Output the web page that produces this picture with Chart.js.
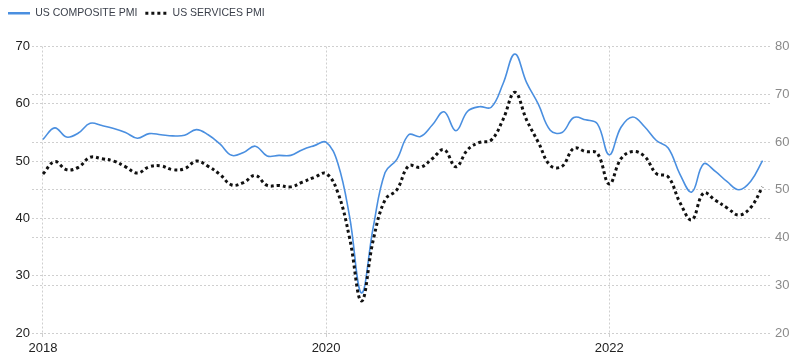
<!DOCTYPE html>
<html>
<head>
<meta charset="utf-8">
<script src="https://cdn.jsdelivr.net/npm/chart.js@4/dist/chart.umd.min.js"></script>
<style>
  html, body { margin: 0; padding: 0; background: #fff; }
  #wrap { width: 800px; height: 364px; }
</style>
</head>
<body>
<div id="wrap"><canvas id="myChart" width="800" height="364"></canvas></div>
<script>
// monthly data, Jan 2018 .. Feb 2023 (index 0 = Jan 2018)
const startYear = 2018;
const tickYears = [2018, 2020, 2022];
const leftTicks = [20, 30, 40, 50, 60, 70];
const rightTicks = [20, 30, 40, 50, 60, 70, 80];

// US composite PMI (left axis)
const composite = [
  53.8, 55.8, 54.2, 54.9, 56.6, 56.2, 55.7, 55.0, 54.0, 54.8, 54.6, 54.4,
  54.5, 55.5, 54.6, 53.0, 51.0, 51.5, 52.6, 50.9, 51.0, 51.0, 52.0, 52.7,
  53.3, 49.6, 40.2, 27.0, 38.5, 48.0, 50.3, 54.6, 54.3, 56.3, 58.6, 55.3,
  58.7, 59.5, 59.4, 63.5, 68.7, 63.7, 59.9, 55.4, 55.0, 57.6, 57.2, 56.5,
  51.1, 55.9, 57.7, 56.0, 53.6, 52.3, 47.7, 44.6, 49.5, 48.2, 46.4, 45.0,
  46.5, 50.1
];

// US services PMI (right axis)
const services = [
  53.3, 55.9, 54.2, 54.7, 56.8, 56.5, 56.0, 54.8, 53.5, 54.8, 55.0, 54.2,
  54.4, 56.0, 54.9, 53.2, 51.0, 51.5, 53.0, 50.9, 50.9, 50.6, 51.6, 52.6,
  53.4, 49.4, 39.8, 26.7, 39.5, 47.9, 50.0, 55.0, 54.7, 56.5, 58.4, 54.8,
  58.4, 59.9, 60.4, 64.7, 70.4, 64.6, 59.9, 55.1, 54.9, 58.7, 58.0, 57.6,
  51.2, 56.5, 58.0, 57.0, 53.4, 52.7, 47.3, 43.7, 49.3, 47.8, 46.2, 44.7,
  46.3, 50.6
];

const gridStyle = { color: "#cfcfcf", lineWidth: 1 };

// push the plot down under the legend
const legendGap = {
  id: "legendGap",
  beforeInit(chart) {
    const fitValue = chart.legend.fit;
    chart.legend.fit = function fit() {
      fitValue.bind(chart.legend)();
      this.height += 18;
    };
  },
};

const ctx = document.getElementById("myChart").getContext("2d");
const myChart = new Chart(ctx, {
  type: "line",
  data: {
    datasets: [
      {
        label: "US COMPOSITE PMI",
        data: composite.map((v, i) => ({ x: i, y: v })),
        yAxisID: "y",
        borderColor: "#4a8fe0",
        backgroundColor: "#4a8fe0",
        borderWidth: 1.6,
        pointRadius: 0,
        tension: 0.4,
        order: 1,
      },
      {
        label: "US SERVICES PMI",
        data: services.map((v, i) => ({ x: i, y: v })),
        yAxisID: "y1",
        borderColor: "#111111",
        backgroundColor: "#111111",
        borderWidth: 3,
        borderDash: [3, 3],
        pointRadius: 0,
        tension: 0.4,
        order: 0,
      },
    ],
  },
  options: {
    responsive: false,
    animation: false,
    layout: { padding: 0 },
    plugins: {
      tooltip: { enabled: false },
      legend: {
        position: "top",
        align: "start",
        labels: {
          usePointStyle: true,
          pointStyle: "line",
          pointStyleWidth: 22,
          boxWidth: 22,
          padding: 8,
          color: "#3a3f4a",
          font: { family: "Liberation Sans, Arial", size: 10.5 },
          sort: (a, b) => a.datasetIndex - b.datasetIndex,
          generateLabels: (chart) => {
            const items = Chart.defaults.plugins.legend.labels.generateLabels(chart);
            items.forEach((item) => {
              const ds = chart.data.datasets[item.datasetIndex];
              item.lineDash = ds.borderDash || [];
              item.lineWidth = ds.borderDash ? 3 : 2.5;
              item.strokeStyle = ds.borderColor;
            });
            return items;
          },
        },
      },
    },
    scales: {
      x: {
        type: "linear",
        min: -0.93,
        max: 61.8,
        afterBuildTicks: (scale) => {
          scale.ticks = tickYears.map((y) => ({ value: (y - startYear) * 12 }));
        },
        afterFit: (scale) => {
          scale.height = 31;
        },
        ticks: {
          autoSkip: false,
          maxRotation: 0,
          padding: 4,
          color: "#222",
          font: { family: "Liberation Sans, Arial", size: 13 },
          callback: (v) => String(startYear + v / 12),
        },
        grid: { ...gridStyle, tickLength: 4 },
        border: { display: false, dash: [2, 2] },
      },
      y: {
        position: "left",
        min: 20,
        max: 70,
        afterBuildTicks: (scale) => {
          scale.ticks = leftTicks.map((v) => ({ value: v }));
        },
        afterFit: (scale) => {
          scale.width = 32;
        },
        ticks: {
          padding: 2,
          color: "#222",
          font: { family: "Liberation Sans, Arial", size: 13 },
        },
        grid: { ...gridStyle, drawTicks: false },
        border: { display: false, dash: [2, 2] },
      },
      y1: {
        position: "right",
        min: 20,
        max: 80,
        afterBuildTicks: (scale) => {
          scale.ticks = rightTicks.map((v) => ({ value: v }));
        },
        afterFit: (scale) => {
          scale.width = 28;
        },
        ticks: {
          padding: 3,
          color: "#8a8a8a",
          font: { family: "Liberation Sans, Arial", size: 13 },
        },
        grid: { ...gridStyle, drawTicks: false },
        border: { display: false, dash: [2, 2] },
      },
    },
  },
  plugins: [legendGap],
});
</script>
</body>
</html>
